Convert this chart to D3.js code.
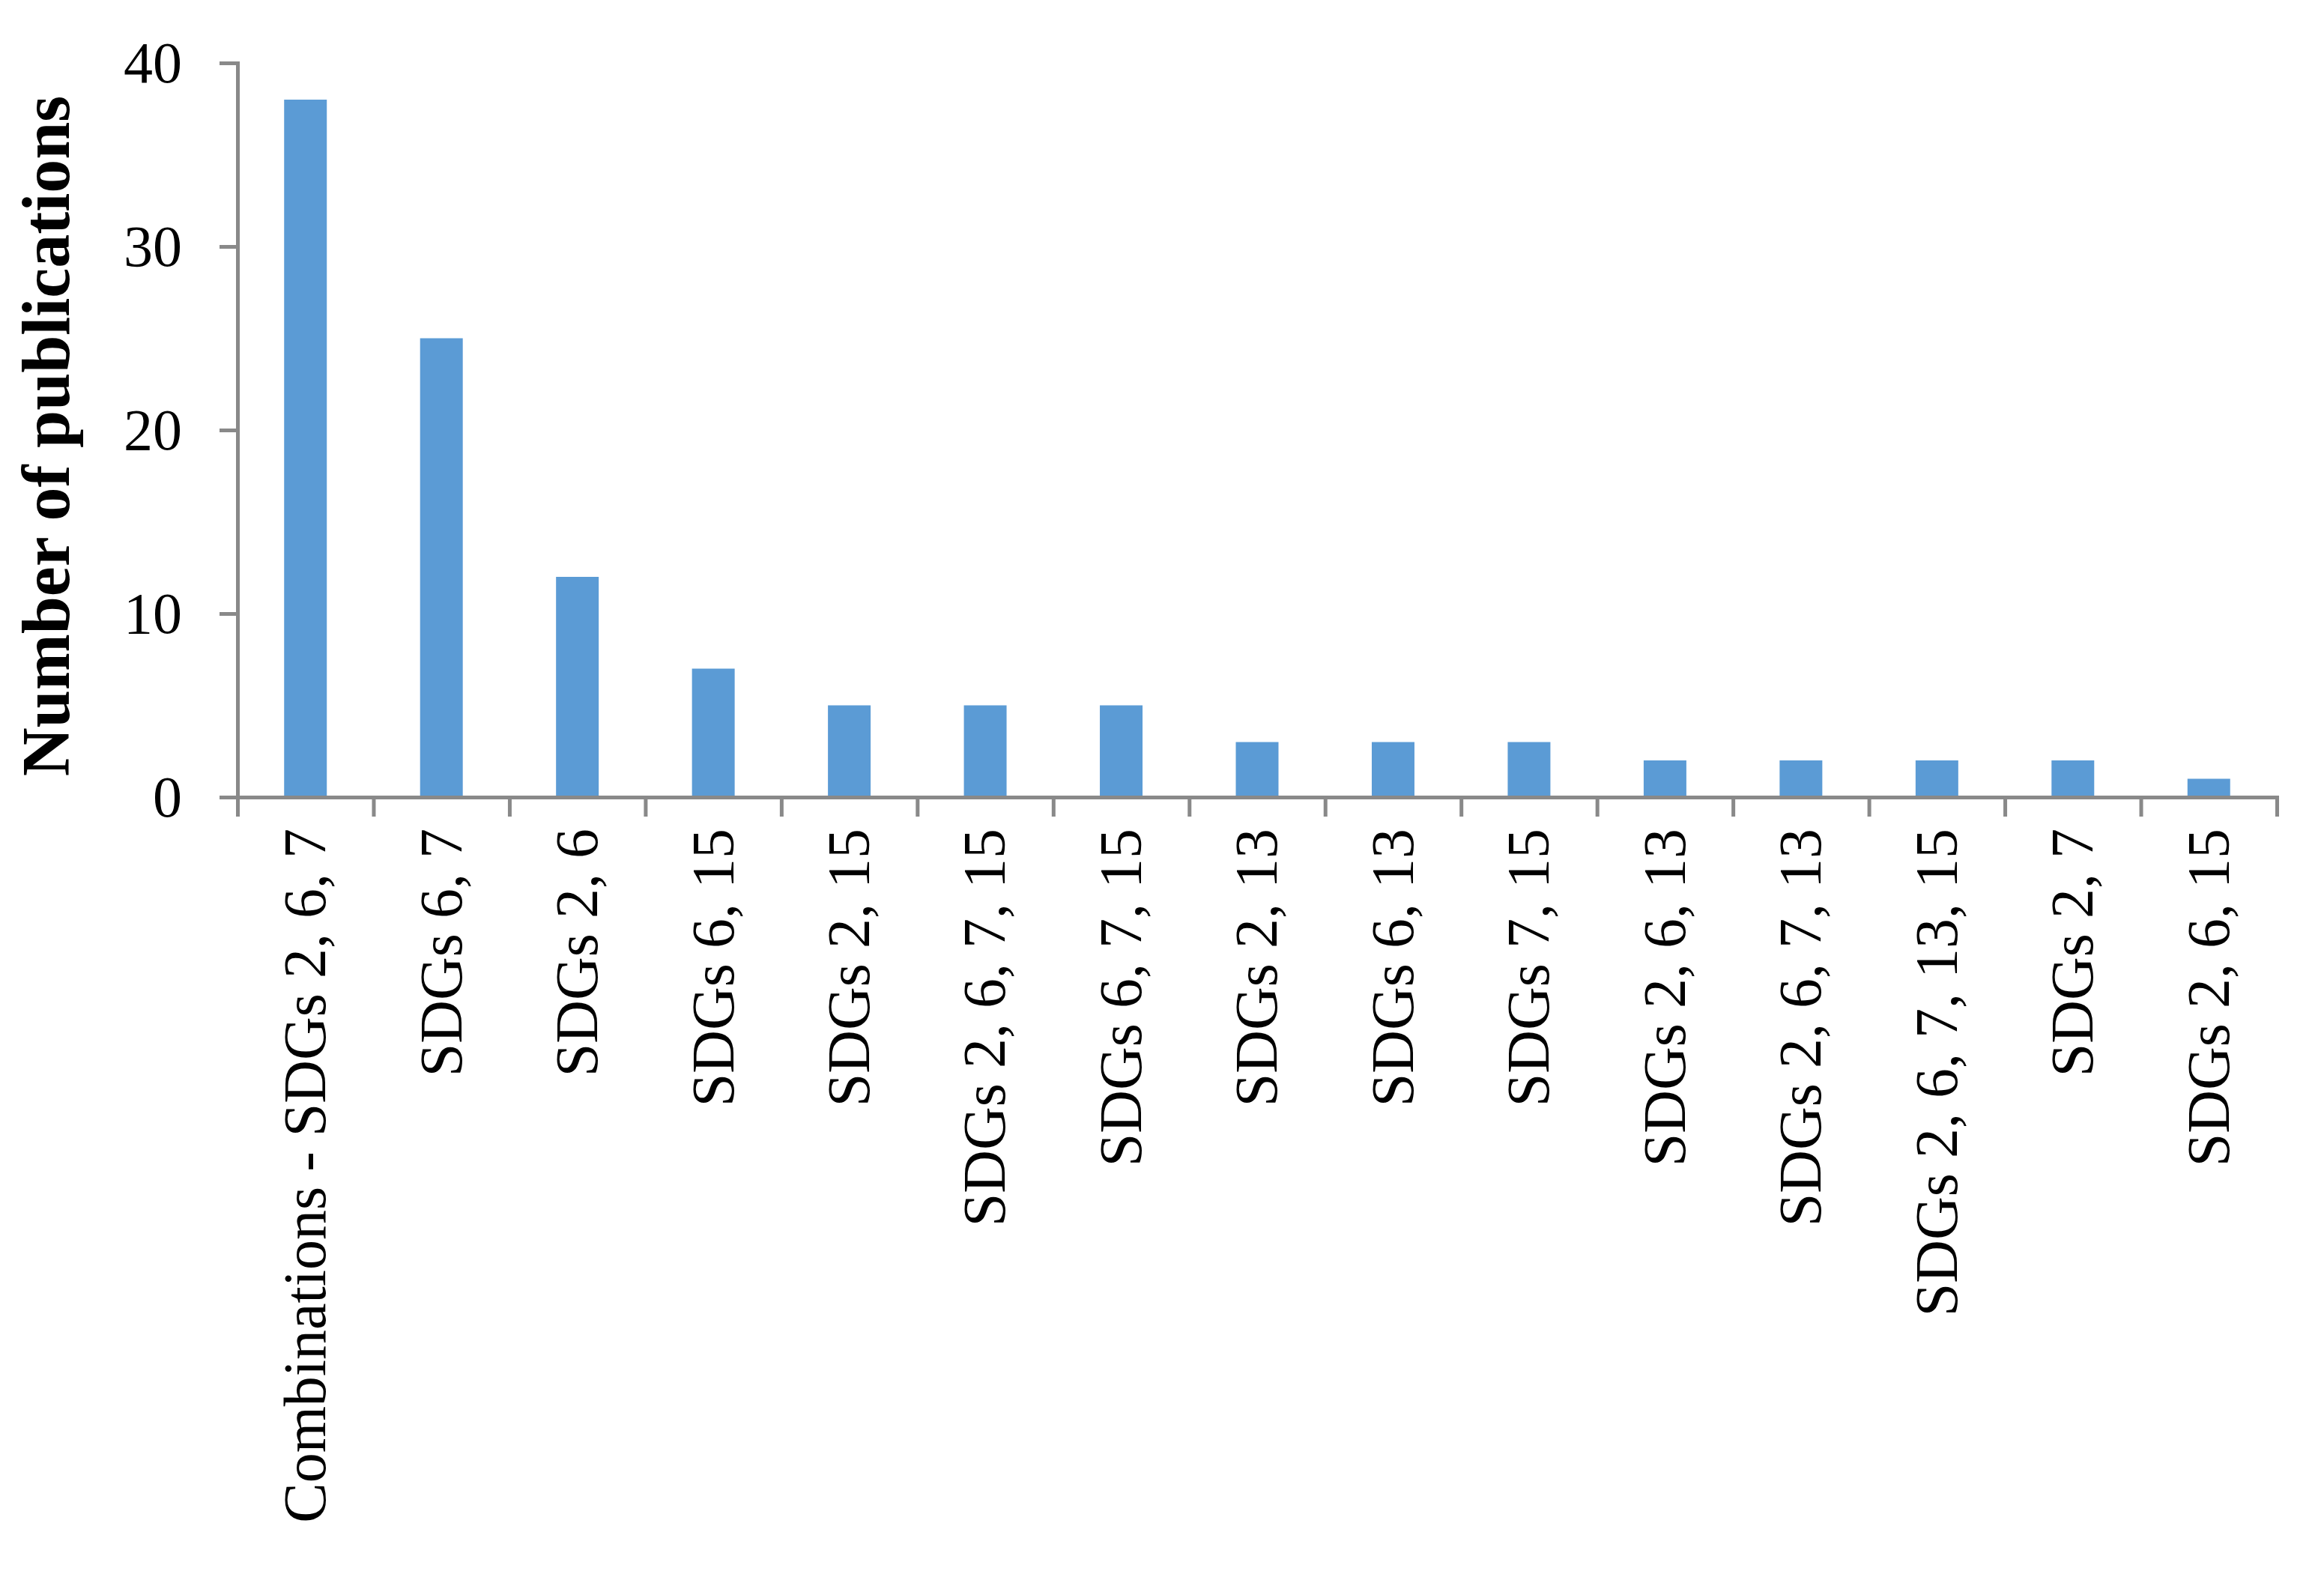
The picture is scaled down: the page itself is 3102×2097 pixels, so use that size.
<!DOCTYPE html>
<html>
<head>
<meta charset="utf-8">
<script src="https://cdn.jsdelivr.net/npm/d3@7"></script>
<style>
  html, body { margin: 0; padding: 0; background: #ffffff; }
  svg { display: block; }
</style>
</head>
<body>
<script>
const categories = [
  "Combinations - SDGs 2, 6, 7",
  "SDGs 6, 7",
  "SDGs 2, 6",
  "SDGs 6, 15",
  "SDGs 2, 15",
  "SDGs 2, 6, 7, 15",
  "SDGs 6, 7, 15",
  "SDGs 2, 13",
  "SDGs 6, 13",
  "SDGs 7, 15",
  "SDGs 2, 6, 13",
  "SDGs 2, 6, 7, 13",
  "SDGs 2, 6, 7, 13, 15",
  "SDGs 2, 7",
  "SDGs 2, 6, 15"
];
const publications = [38, 25, 12, 7, 5, 5, 5, 3, 3, 3, 2, 2, 2, 2, 1];
const yTicks = [0, 10, 20, 30, 40];
const yTitle = "Number of publications";

(function () {
const W = 3102, H = 2097;
const mLeft = 317, mRight = 3039, mTop = 84, mBottom = 1064;
const axisColor = "#898989";
const barColor = "#5B9BD5";
const font = "'Liberation Serif', 'Times New Roman', serif";

const svg = d3.select("body").append("svg")
  .attr("width", W).attr("height", H)
  .attr("viewBox", `0 0 ${W} ${H}`);

const x = d3.scaleBand()
  .domain(categories)
  .range([mLeft, mRight])
  .paddingInner(0.686)
  .paddingOuter(0.343);

const y = d3.scaleLinear().domain([0, 40]).range([mBottom, mTop]);

// bars
svg.append("g").selectAll("rect")
  .data(categories.map((c, i) => ({ c, v: publications[i] })))
  .join("rect")
  .attr("x", d => x(d.c))
  .attr("width", x.bandwidth())
  .attr("y", d => y(d.v))
  .attr("height", d => y(0) - y(d.v))
  .attr("fill", barColor);

// y axis
const yAxis = svg.append("g")
  .attr("transform", `translate(${mLeft},0)`)
  .call(d3.axisLeft(y).tickValues(yTicks).tickSize(24).tickSizeOuter(24).tickPadding(50));
yAxis.selectAll("path, line").attr("stroke", axisColor).attr("stroke-width", 5);
yAxis.selectAll("text")
  .attr("font-family", font).attr("font-size", 78).attr("fill", "#000")
  .attr("dy", "0.33em");

// x axis boundary ticks
const xb = d3.scaleLinear().domain([0, categories.length]).range([mLeft, mRight]);
const xTickAxis = svg.append("g")
  .attr("transform", `translate(0,${mBottom})`)
  .call(d3.axisBottom(xb).tickValues(d3.range(0, categories.length + 1)).tickFormat("").tickSize(26).tickSizeOuter(26));
xTickAxis.selectAll("path, line").attr("stroke", axisColor).attr("stroke-width", 5);

// x labels
const xLab = svg.append("g")
  .attr("transform", `translate(0,${mBottom})`)
  .call(d3.axisBottom(x).tickSize(0).tickSizeOuter(0));
xLab.select(".domain").remove();
xLab.selectAll("text")
  .attr("font-family", font).attr("font-size", 80).attr("fill", "#000")
  .attr("transform", "rotate(-90)")
  .attr("text-anchor", "end")
  .attr("x", -42)
  .attr("y", 0)
  .attr("dy", "0.33em");

// y title
svg.append("text")
  .attr("transform", `translate(92,582) rotate(-90)`)
  .attr("text-anchor", "middle")
  .attr("font-family", font)
  .attr("font-weight", "bold")
  .attr("font-size", 90)
  .attr("fill", "#000")
  .text(yTitle);
})();
</script>
</body>
</html>
